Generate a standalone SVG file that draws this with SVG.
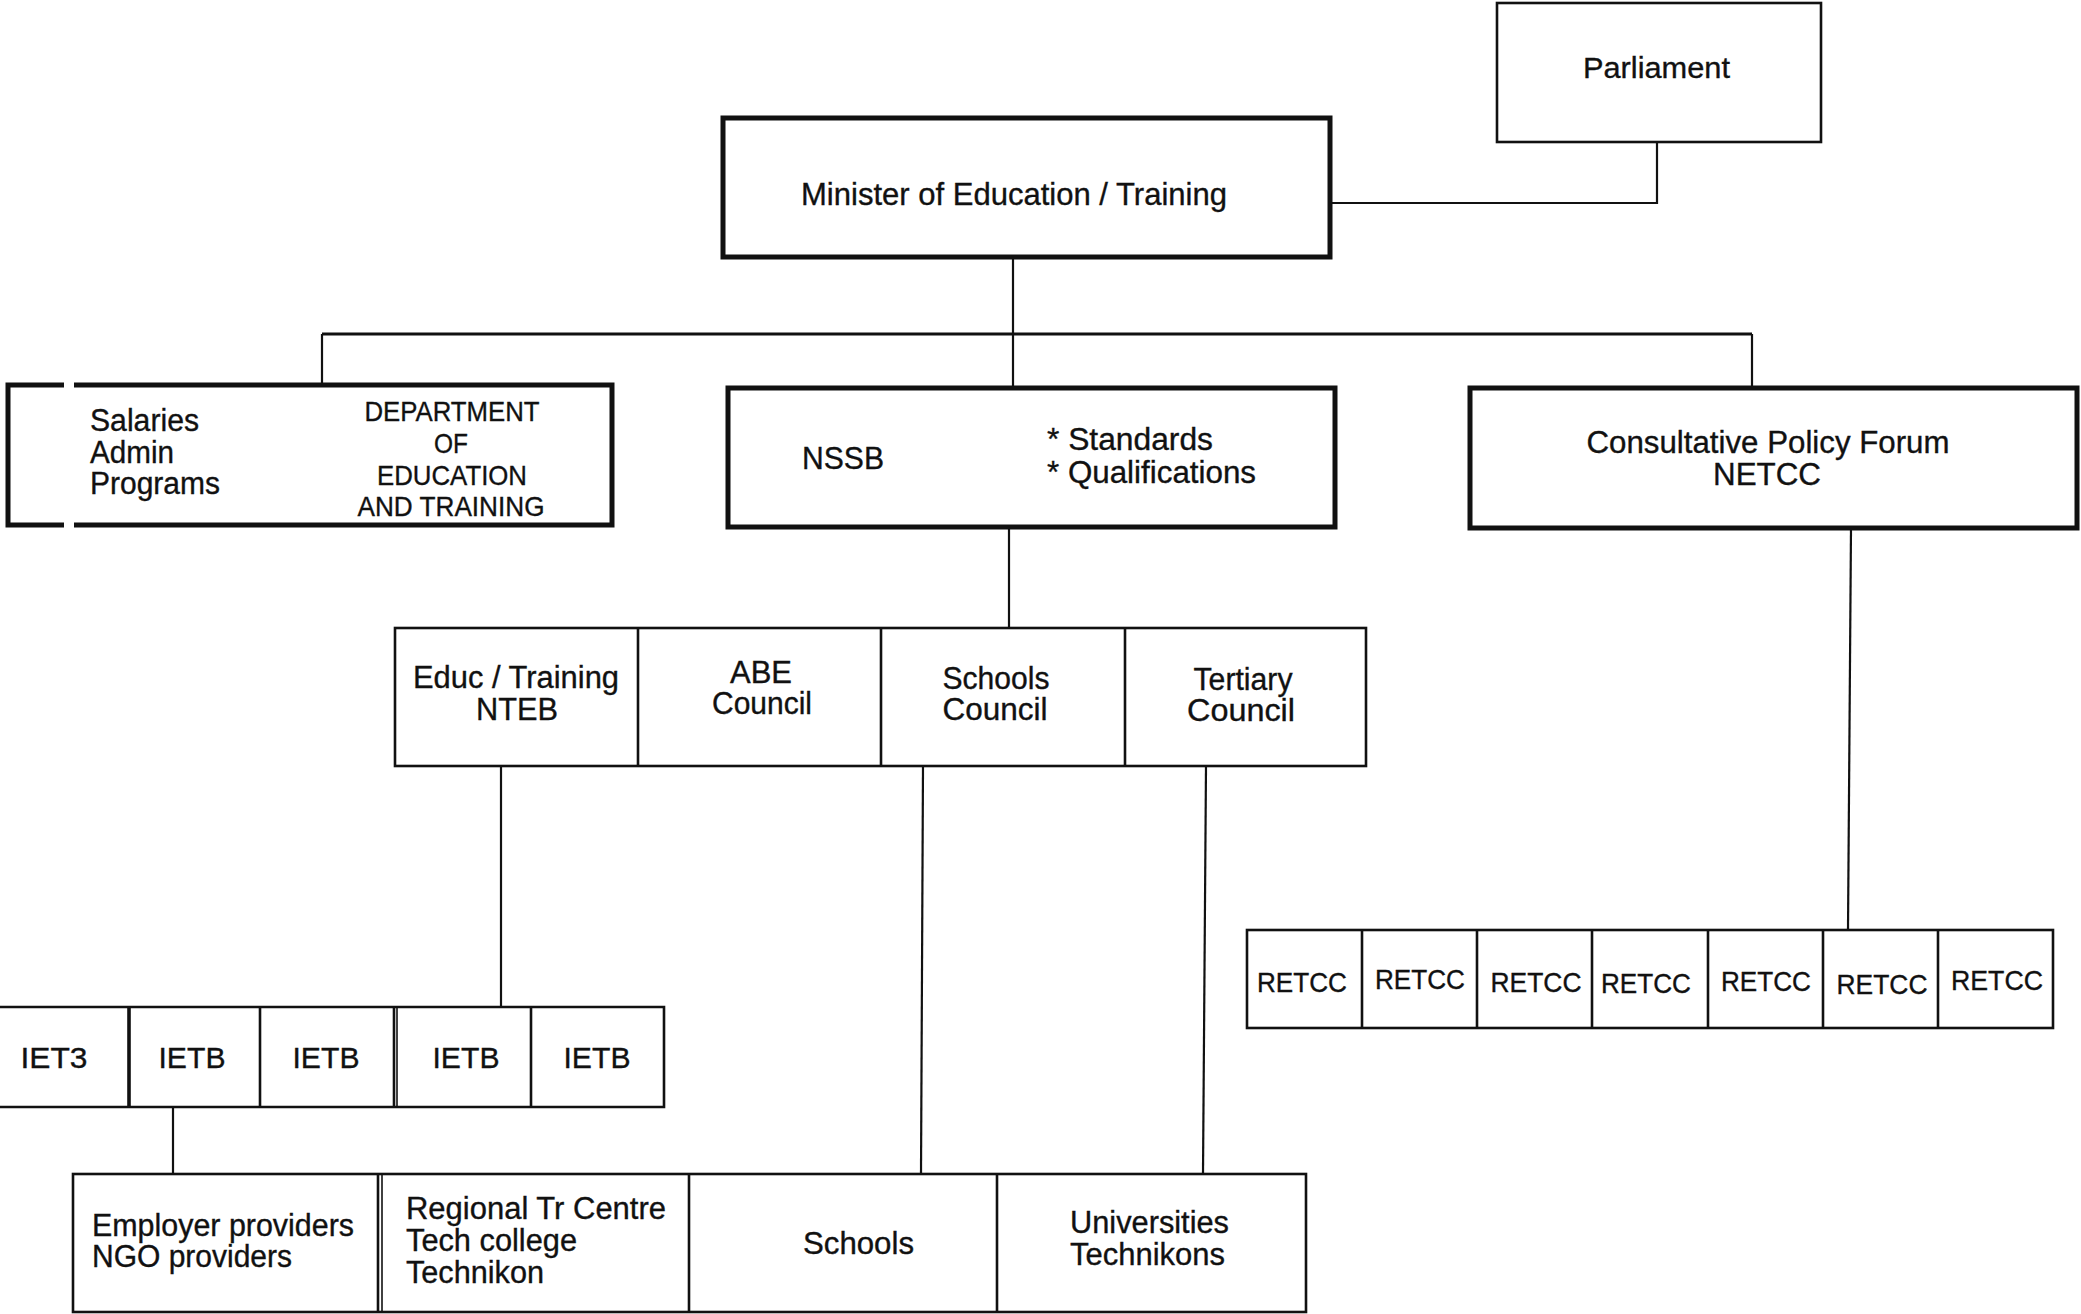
<svg xmlns="http://www.w3.org/2000/svg" width="2081" height="1314" viewBox="0 0 2081 1314">
  <style>
    .bg { fill: #ffffff; }
    .box { fill: none; stroke: #111; stroke-width: 2.6; }
    .thick { fill: none; stroke: #111; stroke-width: 5; }
    .link { fill: none; stroke: #111; stroke-width: 2.2; }
    text { font-family: "Liberation Sans", Arial, sans-serif; fill: #111; stroke: #111; stroke-width: 0.35; }
    .t31 { font-size: 31px; }
    .t30 { font-size: 30px; }
    .t28 { font-size: 28px; }
    .mid { text-anchor: middle; }
  </style>

  <rect class="bg" x="0" y="0" width="2081" height="1314"/>

  <!-- connectors -->
  <g id="connectors">
    <polyline class="link" points="1657,142 1657,203 1332,203"/>
    <line class="link" x1="1013" y1="257" x2="1013" y2="388"/>
    <line class="link" x1="322" y1="334" x2="1752" y2="334" style="stroke-width:2.8"/>
    <line class="link" x1="322" y1="334" x2="322" y2="385"/>
    <line class="link" x1="1752" y1="334" x2="1752" y2="387"/>
    <line class="link" x1="1009" y1="527" x2="1009" y2="628"/>
    <line class="link" x1="501" y1="766" x2="501" y2="1007"/>
    <line class="link" x1="923" y1="766" x2="921" y2="1174"/>
    <line class="link" x1="1206" y1="766" x2="1203" y2="1174"/>
    <line class="link" x1="1851" y1="528" x2="1848" y2="930"/>
    <line class="link" x1="173" y1="1107" x2="173" y2="1174"/>
  </g>

  <!-- top level -->
  <g id="parliament">
    <rect class="box" x="1497" y="3" width="324" height="139"/>
    <text class="t30" x="1583" y="78" textLength="147" lengthAdjust="spacingAndGlyphs">Parliament</text>
  </g>

  <g id="minister">
    <rect class="thick" x="723" y="118" width="607" height="139"/>
    <text x="801" y="205" textLength="426" lengthAdjust="spacingAndGlyphs" style="font-size:32px">Minister of Education / Training</text>
  </g>

  <!-- second level -->
  <g id="department">
    <path class="thick" d="M64,385 H8 V525 H64"/>
    <path class="thick" d="M74,385 H612 V525 H74"/>
    <text class="t31" x="90" y="431" textLength="109" lengthAdjust="spacingAndGlyphs">Salaries</text>
    <text class="t31" x="90" y="463" textLength="84" lengthAdjust="spacingAndGlyphs">Admin</text>
    <text class="t31" x="90" y="494" textLength="130" lengthAdjust="spacingAndGlyphs">Programs</text>
    <text class="t28 mid" x="452" y="421" textLength="175" lengthAdjust="spacingAndGlyphs">DEPARTMENT</text>
    <text class="t28 mid" x="451" y="453" textLength="34" lengthAdjust="spacingAndGlyphs">OF</text>
    <text class="t28 mid" x="452" y="485" textLength="150" lengthAdjust="spacingAndGlyphs">EDUCATION</text>
    <text class="t28 mid" x="451" y="516" textLength="187" lengthAdjust="spacingAndGlyphs">AND TRAINING</text>
  </g>

  <g id="nssb">
    <rect class="thick" x="728" y="388" width="607" height="139"/>
    <text x="802" y="469" textLength="82" lengthAdjust="spacingAndGlyphs" style="font-size:32px">NSSB</text>
    <text class="t31" x="1047" y="450" textLength="166" lengthAdjust="spacingAndGlyphs">* Standards</text>
    <text class="t31" x="1047" y="483" textLength="209" lengthAdjust="spacingAndGlyphs">* Qualifications</text>
  </g>

  <g id="forum">
    <rect class="thick" x="1470" y="388" width="607" height="140"/>
    <text class="t31 mid" x="1768" y="453" textLength="363" lengthAdjust="spacingAndGlyphs">Consultative Policy Forum</text>
    <text class="t31 mid" x="1767" y="485" textLength="108" lengthAdjust="spacingAndGlyphs">NETCC</text>
  </g>

  <!-- councils -->
  <g id="councils">
    <rect class="box" x="395" y="628" width="971" height="138"/>
    <line class="box" x1="638" y1="628" x2="638" y2="766"/>
    <line class="box" x1="881" y1="628" x2="881" y2="766"/>
    <line class="box" x1="1125" y1="628" x2="1125" y2="766"/>
  </g>
  <g id="nteb">
    <text class="t31 mid" x="516" y="688" textLength="206" lengthAdjust="spacingAndGlyphs">Educ / Training</text>
    <text class="t31 mid" x="517" y="720" textLength="82" lengthAdjust="spacingAndGlyphs">NTEB</text>
  </g>
  <g id="abe-council">
    <text class="t31 mid" x="761" y="683" textLength="62" lengthAdjust="spacingAndGlyphs">ABE</text>
    <text class="t31 mid" x="762" y="714" textLength="100" lengthAdjust="spacingAndGlyphs">Council</text>
  </g>
  <g id="schools-council">
    <text class="t31 mid" x="996" y="689" textLength="107" lengthAdjust="spacingAndGlyphs">Schools</text>
    <text class="t31 mid" x="995" y="720" textLength="105" lengthAdjust="spacingAndGlyphs">Council</text>
  </g>
  <g id="tertiary-council">
    <text class="t31 mid" x="1243" y="690" textLength="99" lengthAdjust="spacingAndGlyphs">Tertiary</text>
    <text class="t31 mid" x="1241" y="721" textLength="108" lengthAdjust="spacingAndGlyphs">Council</text>
  </g>

  <!-- industry boards -->
  <g id="ietb-row">
    <path class="box" d="M-3,1007 H664 V1107 H-3"/>
    <line class="box" x1="129" y1="1007" x2="129" y2="1107" style="stroke-width:3.6"/>
    <line class="box" x1="260" y1="1007" x2="260" y2="1107"/>
    <line class="box" x1="394" y1="1007" x2="394" y2="1107"/>
    <line class="box" x1="397" y1="1007" x2="397" y2="1107" style="stroke-width:1.6"/>
    <line class="box" x1="531" y1="1007" x2="531" y2="1107"/>
  </g>
  <g id="ietb-1"><text class="t30 mid" x="54" y="1068" textLength="67" lengthAdjust="spacingAndGlyphs">IET3</text></g>
  <g id="ietb-2"><text class="t30 mid" x="192" y="1068" textLength="67" lengthAdjust="spacingAndGlyphs">IETB</text></g>
  <g id="ietb-3"><text class="t30 mid" x="326" y="1068" textLength="67" lengthAdjust="spacingAndGlyphs">IETB</text></g>
  <g id="ietb-4"><text class="t30 mid" x="466" y="1068" textLength="67" lengthAdjust="spacingAndGlyphs">IETB</text></g>
  <g id="ietb-5"><text class="t30 mid" x="597" y="1068" textLength="67" lengthAdjust="spacingAndGlyphs">IETB</text></g>

  <!-- regional councils -->
  <g id="retcc-row">
    <rect class="box" x="1247" y="930" width="806" height="98"/>
    <line class="box" x1="1362" y1="930" x2="1362" y2="1028"/>
    <line class="box" x1="1477" y1="930" x2="1477" y2="1028"/>
    <line class="box" x1="1592" y1="930" x2="1592" y2="1028"/>
    <line class="box" x1="1708" y1="930" x2="1708" y2="1028"/>
    <line class="box" x1="1823" y1="930" x2="1823" y2="1028"/>
    <line class="box" x1="1938" y1="930" x2="1938" y2="1028"/>
  </g>
  <g id="retcc-1"><text class="t28 mid" x="1302" y="992" textLength="90" lengthAdjust="spacingAndGlyphs">RETCC</text></g>
  <g id="retcc-2"><text class="t28 mid" x="1420" y="989" textLength="90" lengthAdjust="spacingAndGlyphs">RETCC</text></g>
  <g id="retcc-3"><text class="t28 mid" x="1536" y="992" textLength="91" lengthAdjust="spacingAndGlyphs">RETCC</text></g>
  <g id="retcc-4"><text class="t28 mid" x="1646" y="993" textLength="90" lengthAdjust="spacingAndGlyphs">RETCC</text></g>
  <g id="retcc-5"><text class="t28 mid" x="1766" y="991" textLength="90" lengthAdjust="spacingAndGlyphs">RETCC</text></g>
  <g id="retcc-6"><text class="t28 mid" x="1882" y="994" textLength="91" lengthAdjust="spacingAndGlyphs">RETCC</text></g>
  <g id="retcc-7"><text class="t28 mid" x="1997" y="990" textLength="92" lengthAdjust="spacingAndGlyphs">RETCC</text></g>

  <!-- providers -->
  <g id="provider-row">
    <rect class="box" x="73" y="1174" width="1233" height="138"/>
    <line class="box" x1="378" y1="1174" x2="378" y2="1312"/>
    <line class="box" x1="382" y1="1174" x2="382" y2="1312" style="stroke-width:1.6"/>
    <line class="box" x1="689" y1="1174" x2="689" y2="1312"/>
    <line class="box" x1="997" y1="1174" x2="997" y2="1312"/>
  </g>
  <g id="employer-providers">
    <text class="t31" x="92" y="1236" textLength="262" lengthAdjust="spacingAndGlyphs">Employer providers</text>
    <text class="t31" x="92" y="1267" textLength="200" lengthAdjust="spacingAndGlyphs">NGO providers</text>
  </g>
  <g id="regional-centres">
    <text class="t31" x="406" y="1219" textLength="260" lengthAdjust="spacingAndGlyphs">Regional Tr Centre</text>
    <text class="t31" x="406" y="1251" textLength="171" lengthAdjust="spacingAndGlyphs">Tech college</text>
    <text class="t31" x="406" y="1283" textLength="138" lengthAdjust="spacingAndGlyphs">Technikon</text>
  </g>
  <g id="schools">
    <text class="t31" x="803" y="1254" textLength="111" lengthAdjust="spacingAndGlyphs">Schools</text>
  </g>
  <g id="universities">
    <text class="t31" x="1070" y="1233" textLength="159" lengthAdjust="spacingAndGlyphs">Universities</text>
    <text class="t31" x="1070" y="1265" textLength="155" lengthAdjust="spacingAndGlyphs">Technikons</text>
  </g>
</svg>
